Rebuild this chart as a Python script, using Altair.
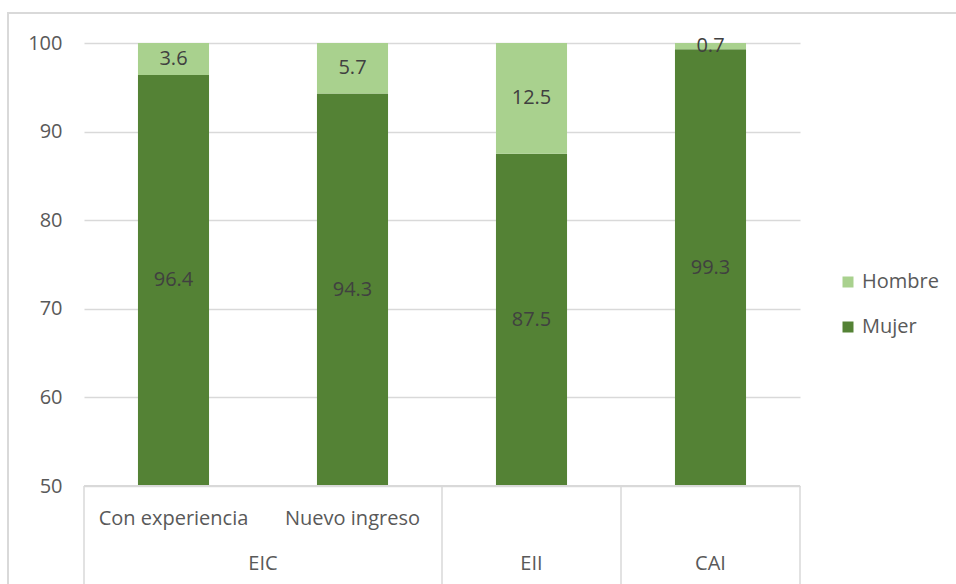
import altair as alt
import pandas as pd

# Categories (two-level axis) and series values
grupos = ["EIC", "EIC", "EII", "CAI"]
subcategorias = ["Con experiencia", "Nuevo ingreso", "", ""]
mujer = [96.4, 94.3, 87.5, 99.3]
hombre = [3.6, 5.7, 12.5, 0.7]

Y_MIN, Y_MAX = 50, 100
DARK = "#548235"
LIGHT = "#A9D18E"
GRID = "#D9D9D9"
TXT = "#595959"
FONT = "Open Sans"
FS = 20

claves = [f"{g} {s}".strip() for g, s in zip(grupos, subcategorias)]

rows = []
for k, m, h in zip(claves, mujer, hombre):
    rows.append({"clave": k, "sexo": "Mujer", "valor": m, "ini": 0, "fin": m,
                 "mid": (max(0, Y_MIN) + m) / 2})
    rows.append({"clave": k, "sexo": "Hombre", "valor": h, "ini": m, "fin": m + h,
                 "mid": (max(m, Y_MIN) + m + h) / 2})
df = pd.DataFrame(rows)

xband = alt.X("clave:N", sort=claves, axis=None,
              scale=alt.Scale(paddingInner=0.603, paddingOuter=0.3015))
yscale = alt.Scale(domain=[Y_MIN, Y_MAX], nice=False, zero=False)

bars = alt.Chart(df).mark_bar(clip=True).encode(
    x=xband,
    y=alt.Y("ini:Q", scale=yscale,
            axis=alt.Axis(values=[50, 60, 70, 80, 90, 100], title=None,
                          domain=False, ticks=False, labelFontSize=FS,
                          labelColor=TXT, labelFont=FONT, labelPadding=22,
                          grid=True, gridColor=GRID, gridWidth=1.5)),
    y2="fin:Q",
    color=alt.Color("sexo:N", scale=alt.Scale(domain=["Hombre", "Mujer"],
                                               range=[LIGHT, DARK]),
                    legend=alt.Legend(title=None, orient="none", legendX=754,
                                      legendY=229, symbolType="square",
                                      symbolSize=121, symbolStrokeWidth=0,
                                      labelFontSize=FS, labelFont=FONT,
                                      labelColor=TXT, rowPadding=25,
                                      labelOffset=4)),
)

labels = alt.Chart(df).mark_text(fontSize=FS, font=FONT, color="#404040",
                                 baseline="middle").encode(
    x=alt.X("clave:N", sort=claves, axis=None),
    y=alt.Y("mid:Q", scale=yscale),
    text=alt.Text("valor:Q", format=".1f"),
)

sub_df = pd.DataFrame({"clave": claves, "sub": subcategorias})
sub_labels = alt.Chart(sub_df).mark_text(fontSize=FS, font=FONT, color=TXT,
                                         baseline="middle").encode(
    x=alt.X("clave:N", sort=claves, axis=None),
    y=alt.value(476),
    text="sub:N",
)

# Group spans on a 0..n index scale for separators and group labels
spans = []
start = 0
for i in range(1, len(grupos) + 1):
    if i == len(grupos) or grupos[i] != grupos[start]:
        spans.append({"grupo": grupos[start], "ini": start, "fin": i,
                      "centro": (start + i) / 2})
        start = i
span_df = pd.DataFrame(spans)
edges = pd.DataFrame({"pos": [0] + [s["fin"] for s in spans]})

iscale = alt.Scale(domain=[0, len(grupos)], nice=False, zero=False)

group_labels = alt.Chart(span_df).mark_text(fontSize=FS, font=FONT, color=TXT,
                                            baseline="middle").encode(
    x=alt.X("centro:Q", scale=iscale, axis=None),
    y=alt.value(521),
    text="grupo:N",
)

separators = alt.Chart(edges).mark_rule(color=GRID, strokeWidth=1.5).encode(
    x=alt.X("pos:Q", scale=iscale, axis=None),
    y=alt.value(443),
    y2=alt.value(560),
)

baseline = alt.Chart(edges).mark_rule(color=GRID, strokeWidth=1.5).encode(
    x=alt.value(0), x2=alt.value(716), y=alt.value(443),
)

frame = alt.Chart(alt.Data(values=[{}])).mark_rect(
    fill=None, stroke=GRID, strokeWidth=2).encode(
    x=alt.value(-76), x2=alt.value(900), y=alt.value(-30), y2=alt.value(600),
)

chart = alt.layer(
    frame, bars, labels, sub_labels, group_labels, separators, baseline
).resolve_scale(x="independent").properties(
    width=716, height=443,
    background="white",
    autosize=alt.AutoSizeParams(type="none"),
    padding={"left": 84, "top": 43, "right": 156, "bottom": 98},
).configure_view(strokeWidth=0, stroke="transparent")

chart.save("out.html", embed_options={"renderer": "svg", "actions": False})
